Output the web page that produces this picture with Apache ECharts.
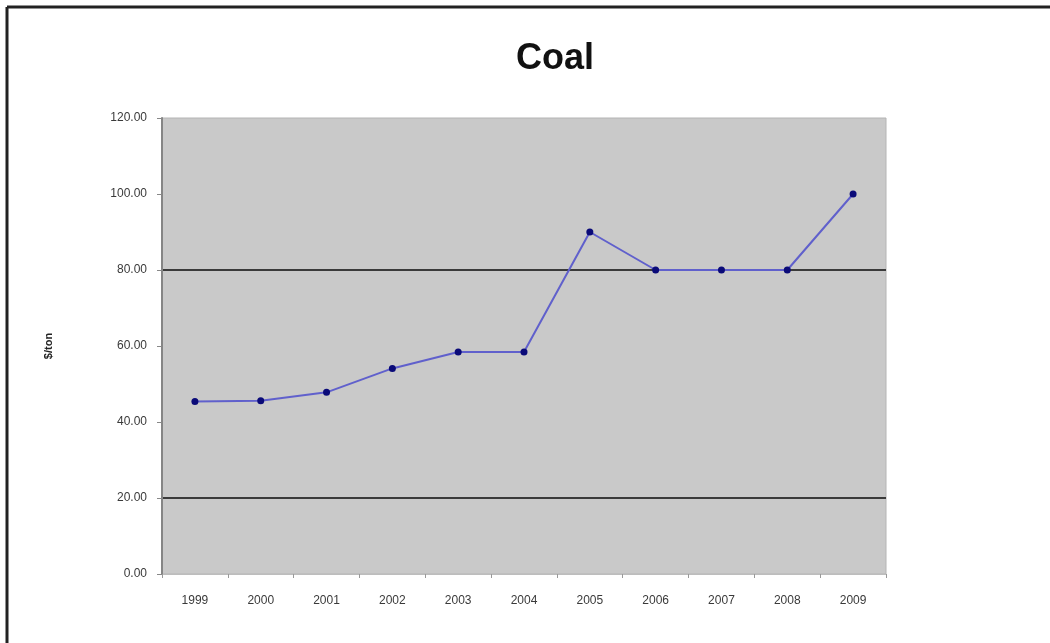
<!DOCTYPE html>
<html>
<head>
<meta charset="utf-8">
<script src="https://cdn.jsdelivr.net/npm/echarts@6/dist/echarts.min.js"></script>
<style>
  html, body { margin: 0; padding: 0; background: #fff; }
  #chart { width: 1050px; height: 643px; }
</style>
</head>
<body>
<div id="chart"></div>
<script>
var years = ['1999', '2000', '2001', '2002', '2003', '2004', '2005', '2006', '2007', '2008', '2009'];
var price = [45.4, 45.6, 47.8, 54.1, 58.4, 58.4, 90.0, 80.0, 80.0, 80.0, 100.0];
// only the 20 and 80 gridlines are drawn in the original
var gridColors = ['transparent', '#3a3a3a', 'transparent', 'transparent', '#3a3a3a', 'transparent', 'transparent'];

var chart = echarts.init(document.getElementById('chart'));

chart.setOption({
  backgroundColor: '#ffffff',
  animation: false,
  title: {
    text: 'Coal',
    left: 550,
    textAlign: 'center',
    top: 36,
    textStyle: { fontFamily: 'Liberation Sans', fontSize: 36, fontWeight: 'bold', color: '#111' }
  },
  graphic: [
    { type: 'line', shape: { x1: 7, y1: 7, x2: 1050, y2: 7 }, style: { stroke: '#222', lineWidth: 3 } },
    { type: 'line', shape: { x1: 7, y1: 7, x2: 7, y2: 643 }, style: { stroke: '#222', lineWidth: 3 } }
  ],
  grid: {
    left: 162, top: 118, right: 164, bottom: 69,
    show: true,
    backgroundColor: '#c9c9c9',
    borderColor: '#b4b4b4',
    borderWidth: 1
  },
  xAxis: {
    type: 'category',
    data: years,
    boundaryGap: true,
    axisLine: { lineStyle: { color: '#bdbdbd', width: 1 } },
    axisTick: { show: true, length: 4, lineStyle: { color: '#999' } },
    axisLabel: { margin: 21, fontFamily: 'Liberation Sans', fontSize: 12, color: '#3a3a3a' }
  },
  yAxis: {
    type: 'value',
    min: 0, max: 120, interval: 20,
    name: '$/ton',
    nameLocation: 'middle',
    nameGap: 108,
    nameRotate: 90,
    nameTextStyle: { fontFamily: 'Liberation Sans', fontSize: 11, fontWeight: 'bold', color: '#222' },
    axisLine: { show: true, lineStyle: { color: '#858585', width: 2 } },
    axisTick: { show: true, length: 5, lineStyle: { color: '#888' } },
    axisLabel: {
      margin: 15,
      fontFamily: 'Liberation Sans', fontSize: 12, color: '#3a3a3a',
      formatter: function (v) { return v.toFixed(2); }
    },
    splitLine: { show: true, lineStyle: { color: gridColors, width: 2 } }
  },
  series: [{
    type: 'line',
    data: price,
    symbol: 'circle',
    symbolSize: 7,
    lineStyle: { color: '#6060cc', width: 2 },
    itemStyle: { color: '#0a0a78' }
  }]
});
</script>
</body>
</html>
